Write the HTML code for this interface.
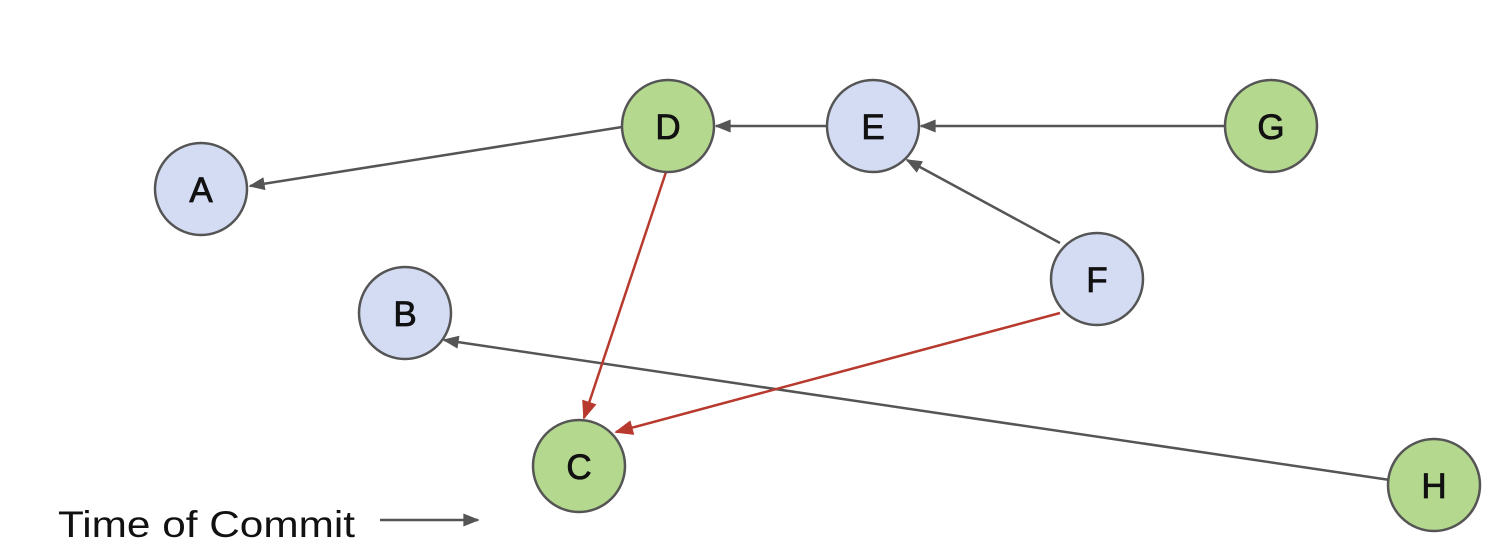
<!DOCTYPE html>
<html><head><style>body{margin:0;background:#fff}</style></head><body>
<svg width="1497" height="547" xmlns="http://www.w3.org/2000/svg">
<defs>
<marker id="gA" viewBox="0 0 10 8" markerWidth="17" markerHeight="13" refX="9" refY="4" orient="auto" markerUnits="userSpaceOnUse"><path d="M0,0 L10,4 L0,8z" fill="#555"/></marker>
<marker id="rA" viewBox="0 0 10 8" markerWidth="19" markerHeight="15" refX="9" refY="4" orient="auto" markerUnits="userSpaceOnUse"><path d="M0,0 L10,4 L0,8z" fill="#b8392e"/></marker>
</defs>
<g stroke="#555" stroke-width="2.5" fill="none" marker-end="url(#gA)">
<line x1="622" y1="127" x2="250" y2="186"/>
<line x1="828" y1="126" x2="716" y2="126"/>
<line x1="1225" y1="126" x2="921" y2="126"/>
<line x1="1060" y1="243" x2="907" y2="160"/>
<line x1="1390" y1="480" x2="444" y2="340"/>
<line x1="380" y1="520" x2="478" y2="520"/>
</g>
<g stroke="#b8392e" stroke-width="2.5" fill="none" marker-end="url(#rA)">
<line x1="666" y1="172" x2="584" y2="418"/>
<line x1="1060" y1="313" x2="616" y2="432"/>
</g>
<g stroke="#555" stroke-width="2.5">
<circle cx="201" cy="189" r="46" fill="#d3dcf3"/>
<circle cx="405" cy="313" r="46" fill="#d3dcf3"/>
<circle cx="579" cy="466" r="46" fill="#b4d88e"/>
<circle cx="668" cy="126" r="46" fill="#b4d88e"/>
<circle cx="873" cy="126" r="46" fill="#d3dcf3"/>
<circle cx="1097" cy="279" r="46" fill="#d3dcf3"/>
<circle cx="1271" cy="126" r="46" fill="#b4d88e"/>
<circle cx="1434" cy="485" r="46" fill="#b4d88e"/>
</g>
<g font-family="Liberation Sans, sans-serif" font-size="35" fill="#111" stroke="#111" stroke-width="0.8" text-anchor="middle">
<text x="201" y="202">A</text>
<text x="405" y="326">B</text>
<text x="579" y="479">C</text>
<text x="668" y="139">D</text>
<text x="873" y="139">E</text>
<text x="1097" y="292">F</text>
<text x="1271" y="139">G</text>
<text x="1434" y="498">H</text>
</g>
<text x="58" y="537" font-family="Liberation Sans, sans-serif" font-size="37" fill="#111" textLength="297" lengthAdjust="spacingAndGlyphs">Time of Commit</text>
</svg>
</body></html>
